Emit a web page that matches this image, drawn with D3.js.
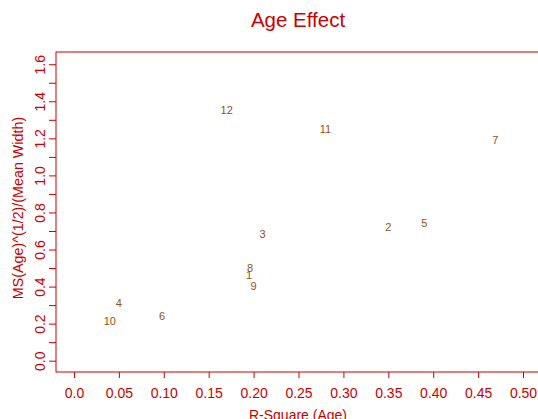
<!DOCTYPE html>
<html>
<head>
<meta charset="utf-8">
<script src="https://cdn.jsdelivr.net/npm/d3@7"></script>
<style>
  body { margin: 0; background: #fff; }
  svg { display: block; }
</style>
</head>
<body>
<script>
// point labels and their values
var labels = ["1", "2", "3", "4", "5", "6", "7", "8", "9", "10", "11", "12"];
var rSquare = [0.195, 0.350, 0.210, 0.050, 0.390, 0.098, 0.469, 0.196, 0.200, 0.040, 0.280, 0.170];
var msRatio = [0.463, 0.723, 0.684, 0.313, 0.743, 0.241, 1.191, 0.502, 0.403, 0.216, 1.251, 1.353];

// tick values and labels
var xTicks = [0, 0.05, 0.10, 0.15, 0.20, 0.25, 0.30, 0.35, 0.40, 0.45, 0.50];
var xTickLabels = ["0.0", "0.05", "0.10", "0.15", "0.20", "0.25", "0.30", "0.35", "0.40", "0.45", "0.50"];
var yTicks = [0, 0.1, 0.2, 0.3, 0.4, 0.5, 0.6, 0.7, 0.8, 0.9, 1.0, 1.1, 1.2, 1.3, 1.4, 1.5, 1.6];
var yTickLabels = ["0.0", "", "0.2", "", "0.4", "", "0.6", "", "0.8", "", "1.0", "", "1.2", "", "1.4", "", "1.6"];

var width = 538, height = 419;
var red = "#cc0000";
var brown = "#8f5219";
var font = "Arial, 'Liberation Sans', sans-serif";

// plot region (R style, 4% padding round the data range)
var box = {left: 56, top: 52, right: 541, bottom: 372};

var x = d3.scaleLinear()
    .domain([-0.02, 0.52])
    .range([box.left, box.right]);

var y = d3.scaleLinear()
    .domain([-0.061, 1.666])
    .range([box.bottom, box.top]);

var svg = d3.select("body")
    .append("svg")
    .attr("width", width)
    .attr("height", height);

// frame
svg.append("rect")
    .attr("x", box.left)
    .attr("y", box.top)
    .attr("width", box.right - box.left)
    .attr("height", box.bottom - box.top)
    .attr("fill", "none")
    .attr("stroke", red)
    .attr("stroke-width", 1);

// x axis
var xAxis = d3.axisBottom(x)
    .tickValues(xTicks)
    .tickSize(6)
    .tickPadding(10)
    .tickFormat(function(d, i) { return xTickLabels[i]; });

var gx = svg.append("g")
    .attr("transform", "translate(0," + box.bottom + ")")
    .call(xAxis);
gx.select(".domain").remove();
gx.selectAll("line").attr("stroke", red);
gx.selectAll("text")
    .attr("fill", red)
    .style("font-family", font)
    .style("font-size", "14px");

// y axis (labels turned like R does)
var yAxis = d3.axisLeft(y)
    .tickValues(yTicks)
    .tickSize(7)
    .tickFormat(function(d, i) { return yTickLabels[i]; });

var gy = svg.append("g")
    .attr("transform", "translate(" + box.left + ",0)")
    .call(yAxis);
gy.select(".domain").remove();
gy.selectAll("line").attr("stroke", red);
gy.selectAll("text")
    .attr("fill", red)
    .attr("transform", "rotate(-90)")
    .attr("x", 0)
    .attr("y", -11)
    .attr("dy", 0)
    .style("text-anchor", "middle")
    .style("font-family", font)
    .style("font-size", "14px");

// the points, drawn as their labels
svg.selectAll("text.pt")
    .data(labels)
    .enter().append("text")
    .attr("class", "pt")
    .attr("x", function(d, i) { return x(rSquare[i]); })
    .attr("y", function(d, i) { return y(msRatio[i]); })
    .attr("dy", "0.36em")
    .attr("text-anchor", "middle")
    .attr("fill", brown)
    .style("font-family", font)
    .style("font-size", "11px")
    .text(function(d) { return d; });

// title and axis titles
svg.append("text")
    .attr("x", 298)
    .attr("y", 27)
    .attr("text-anchor", "middle")
    .attr("fill", red)
    .style("font-family", font)
    .style("font-size", "20.5px")
    .text("Age Effect");

svg.append("text")
    .attr("x", 298)
    .attr("y", 420)
    .attr("text-anchor", "middle")
    .attr("fill", red)
    .style("font-family", font)
    .style("font-size", "14px")
    .text("R-Square (Age)");

svg.append("text")
    .attr("transform", "translate(23,208) rotate(-90)")
    .attr("text-anchor", "middle")
    .attr("fill", red)
    .style("font-family", font)
    .style("font-size", "14.3px")
    .text("MS(Age)^(1/2)/(Mean Width)");
</script>
</body>
</html>
